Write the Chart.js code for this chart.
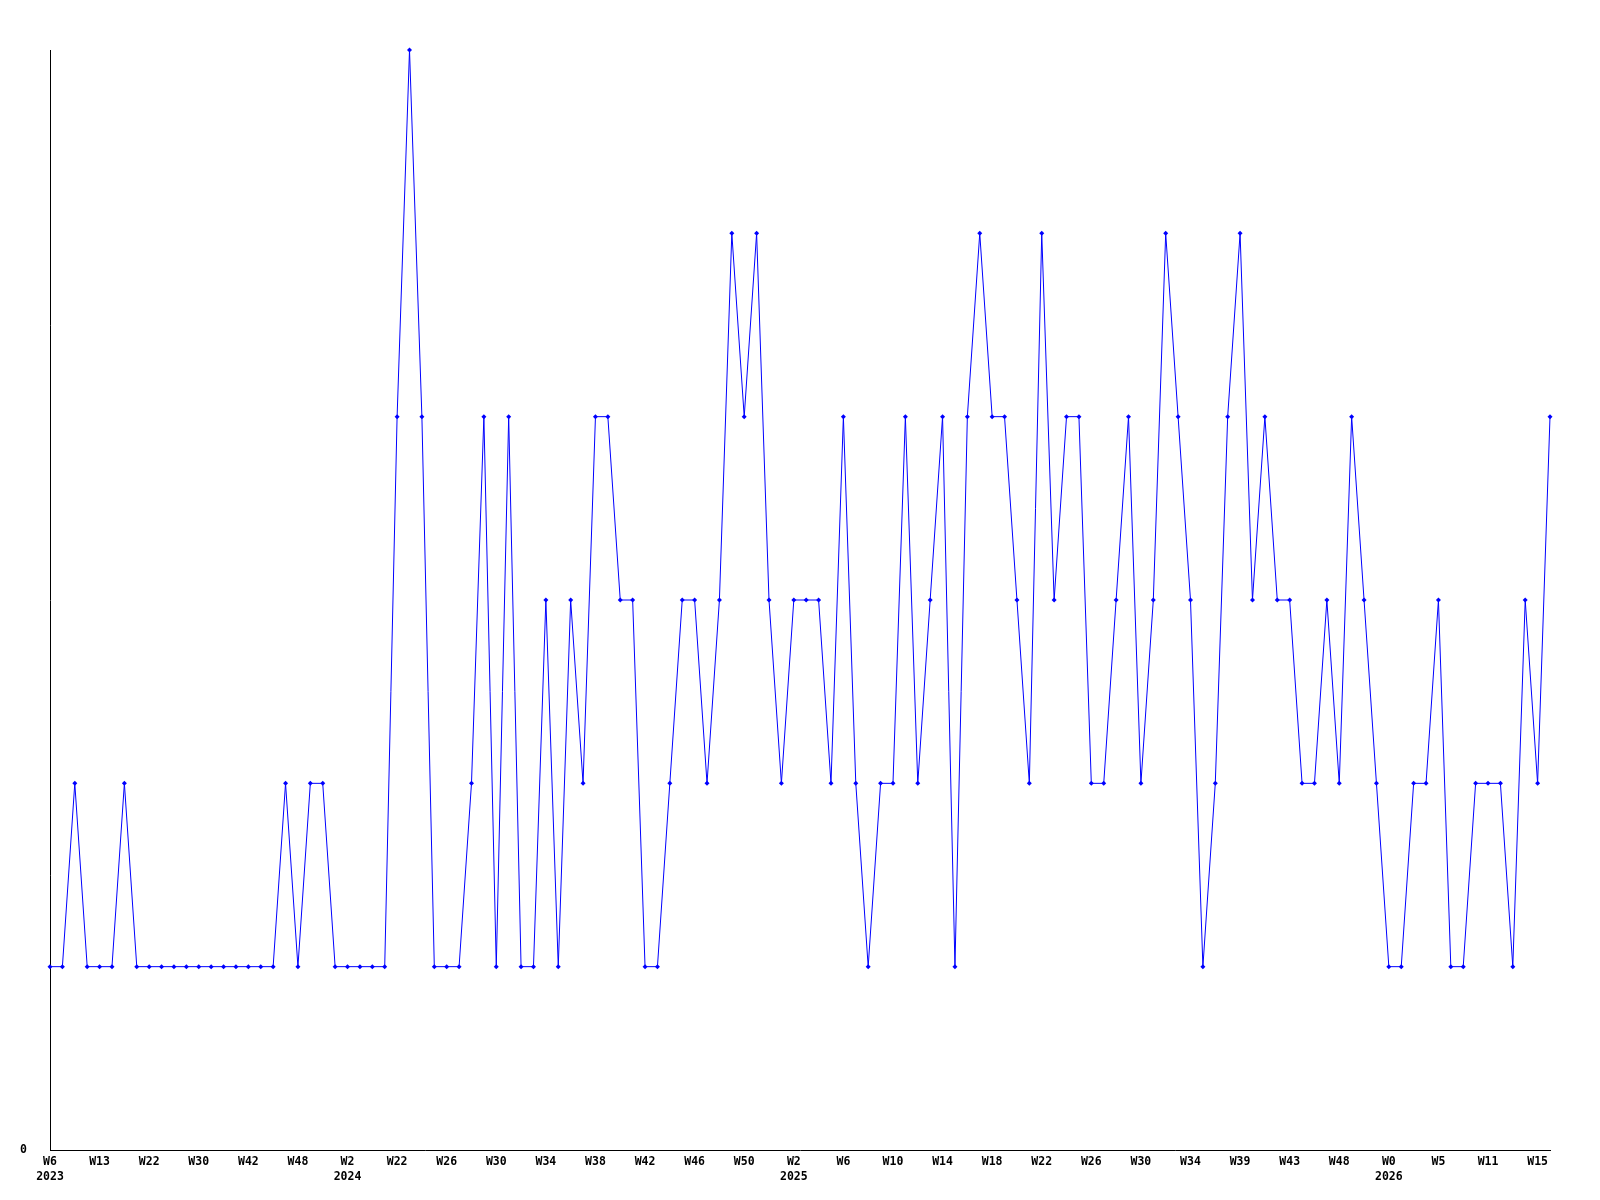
<!DOCTYPE html>
<html>
<head>
<meta charset="utf-8">
<script src="https://cdn.jsdelivr.net/npm/chart.js@4.4.1/dist/chart.umd.min.js"></script>
<style>
  html, body { margin: 0; padding: 0; background: #fff; }
  #wrap { width: 1600px; height: 1200px; }
</style>
</head>
<body>
<div id="wrap"><canvas id="lineChart" width="1600" height="1200"></canvas></div>
<script>
// weekly counts, 2023 W6 .. 2026 W15
const values = [
  1, 1, 2, 1, 1, 1, 2, 1, 1, 1, 1, 1, 1, 1, 1, 1, 1, 1, 1, 2,
  1, 2, 2, 1, 1, 1, 1, 1, 4, 6, 4, 1, 1, 1, 2, 4, 1, 4, 1, 1,
  3, 1, 3, 2, 4, 4, 3, 3, 1, 1, 2, 3, 3, 2, 3, 5, 4, 5, 3, 2,
  3, 3, 3, 2, 4, 2, 1, 2, 2, 4, 2, 3, 4, 1, 4, 5, 4, 4, 3, 2,
  5, 3, 4, 4, 2, 2, 3, 4, 2, 3, 5, 4, 3, 1, 2, 4, 5, 3, 4, 3,
  3, 2, 2, 3, 2, 4, 3, 2, 1, 1, 2, 2, 3, 1, 1, 2, 2, 2, 1, 3,
  2, 4
];
// one label every 4 weeks
const tickLabels = [
  'W6', 'W13', 'W22', 'W30', 'W42', 'W48', 'W2', 'W22', 'W26', 'W30',
  'W34', 'W38', 'W42', 'W46', 'W50', 'W2', 'W6', 'W10', 'W14', 'W18',
  'W22', 'W26', 'W30', 'W34', 'W39', 'W43', 'W48', 'W0', 'W5', 'W11', 'W15'
];
const yearLabels = [
  '2023', '', '', '', '', '', '2024', '', '', '',
  '', '', '', '', '', '2025', '', '', '', '',
  '', '', '', '', '', '', '', '2026', '', '', ''
];
const labelEvery = 4;

const points = values.map((v, i) => ({ x: i, y: v }));
const font = { family: 'DejaVu Sans Mono', size: 11.5, weight: 'bold', lineHeight: 1.25 };

let ctx = document.getElementById('lineChart').getContext('2d');
let lineChart = new Chart(ctx, {
  type: 'line',
  data: {
    datasets: [{
      data: points,
      borderColor: '#0000ff',
      backgroundColor: '#0000ff',
      borderWidth: 1,
      pointStyle: 'rectRot',
      pointRadius: 2.5,
      pointBorderWidth: 0,
      tension: 0,
      fill: false,
      clip: false
    }]
  },
  options: {
    responsive: false,
    animation: false,
    layout: { padding: { left: 20, right: 50, top: 50, bottom: 0 } },
    plugins: {
      legend: { display: false },
      tooltip: { enabled: false }
    },
    scales: {
      x: {
        type: 'linear',
        min: 0,
        max: values.length - 1,
        grid: { display: false, drawTicks: false },
        border: { display: true, color: '#000', width: 1 },
        afterFit: (scale) => { scale.height = 50; },
        ticks: {
          stepSize: labelEvery,
          includeBounds: false,
          autoSkip: false,
          maxRotation: 0,
          padding: 5,
          color: '#000',
          font,
          callback: (v) => {
            if (v % labelEvery !== 0) return '';
            const k = v / labelEvery;
            return yearLabels[k] ? [tickLabels[k], yearLabels[k]] : tickLabels[k];
          }
        }
      },
      y: {
        min: 0,
        max: 6,
        grid: { display: false, drawTicks: false },
        border: { display: true, color: '#000', width: 1 },
        afterFit: (scale) => { scale.width = 30; },
        ticks: {
          stepSize: 1,
          crossAlign: 'far',
          color: '#000',
          font,
          callback: (v) => (v === 0 ? '0' : '')
        }
      }
    }
  }
});
</script>
</body>
</html>
